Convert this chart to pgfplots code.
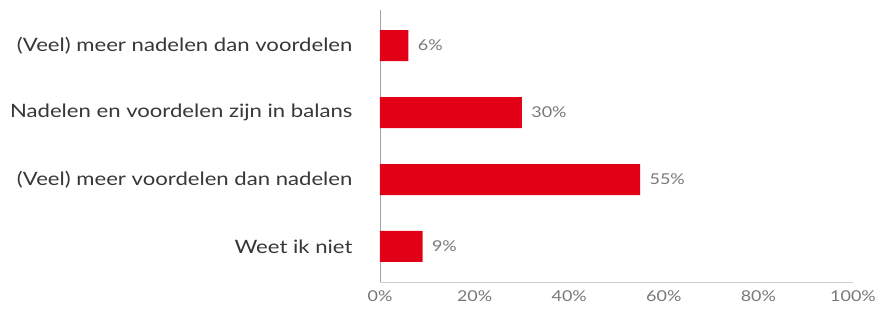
\documentclass[border=0pt]{standalone}
\usepackage{pgfplots}
\pgfplotsset{compat=1.18}
\usepackage{fontspec}
\setmainfont{Lato}[FakeStretch=1.2]
\definecolor{barred}{RGB}{226,0,22}
\definecolor{labgray}{RGB}{55,55,55}
\definecolor{valgray}{RGB}{120,120,120}
\definecolor{axgray}{RGB}{205,205,205}
\begin{document}
\begin{tikzpicture}
\begin{axis}[
  scale only axis,
  width=473bp, height=272bp,
  xbar, bar width=31bp,
  xmin=0, xmax=100,
  ymin=-0.53, ymax=3.53,
  y dir=reverse,
  ytick={0,1,2,3},
  yticklabels={{(Veel) meer nadelen dan voordelen},{Nadelen en voordelen zijn in balans},{(Veel) meer voordelen dan nadelen},{Weet ik niet}},
  xtick={0,20,40,60,80,100},
  xticklabel={\pgfmathprintnumber{\tick}\%},
  /pgf/number format/assume math mode=true,
  axis x line*=bottom, axis y line*=left,
  x axis line style={draw=axgray, -},
  y axis line style={draw=axgray!80!black, -},
  major tick length=0pt,
  yticklabel style={font=\fontsize{18.5}{20}\selectfont, text=labgray, xshift=-24bp},
  xticklabel style={font=\fontsize{15}{17}\selectfont, text=valgray, yshift=-5bp},
  nodes near coords={\pgfmathprintnumber{\pgfplotspointmeta}\%},
  nodes near coords style={font=\fontsize{15}{17}\selectfont, text=valgray, anchor=west, xshift=6bp},
  point meta=explicit,
  clip=false,
]
\addplot[fill=barred, draw=none] coordinates {(6,0) [6] (30,1) [30] (55,2) [55] (9,3) [9]};
\coordinate (o) at (rel axis cs:0,0);
\end{axis}
\pgfresetboundingbox
\path (o) ++(-380bp,-31bp) rectangle ++(882bp,313bp);
\end{tikzpicture}
\end{document}
